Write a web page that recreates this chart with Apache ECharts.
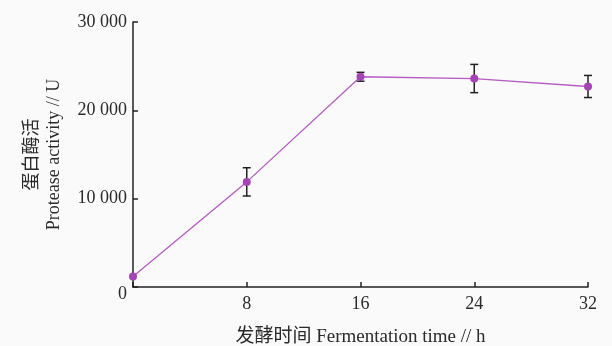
<!DOCTYPE html>
<html><head><meta charset="utf-8">
<script src="https://cdn.jsdelivr.net/npm/echarts@6/dist/echarts.min.js"></script>
<style>html,body{margin:0;padding:0;background:#fafafa;}#c{width:612px;height:346px;}</style>
</head><body><div id="c"></div>
<script>
var hours = [0, 8, 16, 24, 32];
var activity = [1200, 11900, 23800, 23600, 22700];
var errors = [0, 1600, 500, 1600, 1250];
var xTicks = [0, 8, 16, 24, 32];
var yTicks = [0, 10000, 20000, 30000];

var FONT = '"Liberation Serif", "Noto Sans CJK SC", serif';
var chart = echarts.init(document.getElementById('c'));
var lineData = hours.map(function (h, i) { return [h, activity[i]]; });
var errData = hours.map(function (h, i) { return [h, activity[i] - errors[i], activity[i] + errors[i]]; });

function fmtThousands(v) {
  var s = String(v);
  if (s.length > 3) s = s.slice(0, s.length - 3) + ' ' + s.slice(s.length - 3);
  return s;
}

chart.setOption({
  backgroundColor: '#fafafa',
  animation: false,
  grid: { left: 133, right: 24, top: 22, bottom: 59, containLabel: false, outerBoundsMode: 'none' },
  xAxis: {
    type: 'value', min: xTicks[0], max: xTicks[xTicks.length - 1], interval: 8,
    name: '发酵时间 Fermentation time // h', nameLocation: 'middle', nameGap: 41,
    nameTextStyle: { fontFamily: FONT, fontSize: 19, color: '#2a2a2a' },
    axisLine: { lineStyle: { color: '#222', width: 1.5 } },
    axisTick: { inside: true, length: 5, lineStyle: { color: '#222', width: 1.5 } },
    axisLabel: { fontFamily: FONT, fontSize: 18, color: '#2a2a2a', margin: 8,
      formatter: function (v) { return v === 0 ? '' : String(v); } },
    splitLine: { show: false }
  },
  yAxis: {
    type: 'value', min: yTicks[0], max: yTicks[yTicks.length - 1], interval: 10000,
    name: '蛋白酶活\nProtease activity // U', nameLocation: 'middle', nameGap: 68, nameRotate: 90,
    nameTextStyle: { fontFamily: FONT, fontSize: 18, color: '#2a2a2a', lineHeight: 22 },
    axisLine: { lineStyle: { color: '#222', width: 1.5 } },
    axisTick: { inside: true, length: 5, lineStyle: { color: '#222', width: 1.5 } },
    axisLabel: { fontFamily: FONT, fontSize: 18, color: '#2a2a2a', margin: 6,
      formatter: function (v) { return v === 0 ? '{z|0}' : fmtThousands(v); },
      rich: { z: { fontFamily: FONT, fontSize: 18, color: '#2a2a2a', padding: [14, 0, 0, 0] } } },
    splitLine: { show: false }
  },
  series: [
    {
      type: 'custom', data: errData, z: 2,
      renderItem: function (params, api) {
        var x = api.value(0), lo = api.value(1), hi = api.value(2);
        if (hi - lo <= 0) return null;
        var pLo = api.coord([x, lo]), pHi = api.coord([x, hi]);
        var w = 4;
        var st = { stroke: '#222', lineWidth: 1.5 };
        return { type: 'group', children: [
          { type: 'line', shape: { x1: pLo[0], y1: pLo[1], x2: pHi[0], y2: pHi[1] }, style: st },
          { type: 'line', shape: { x1: pLo[0] - w, y1: pLo[1], x2: pLo[0] + w, y2: pLo[1] }, style: st },
          { type: 'line', shape: { x1: pHi[0] - w, y1: pHi[1], x2: pHi[0] + w, y2: pHi[1] }, style: st }
        ] };
      }
    },
    {
      type: 'line', data: lineData, symbol: 'circle', symbolSize: 8,
      lineStyle: { color: '#b45cc2', width: 1.3 },
      itemStyle: { color: '#a346b3' }, z: 5
    }
  ]
});
</script></body></html>
